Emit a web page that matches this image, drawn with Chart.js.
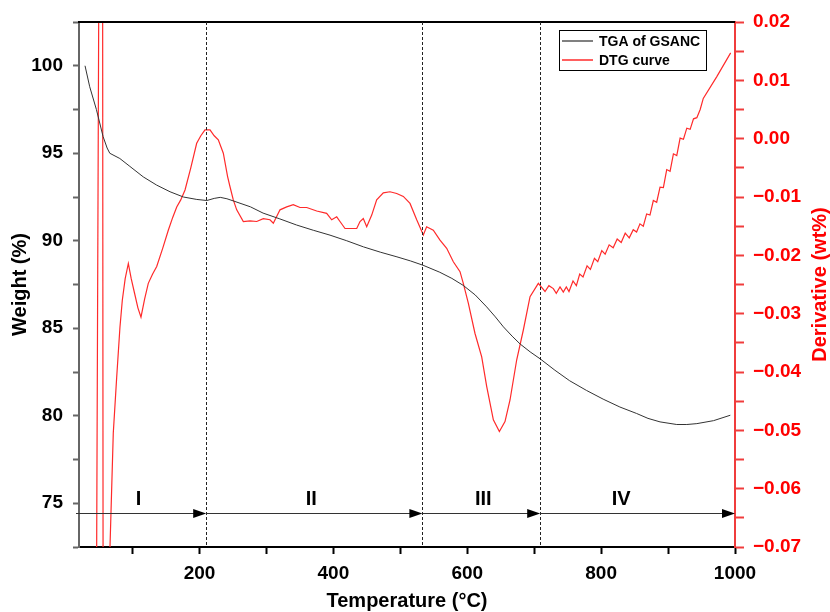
<!DOCTYPE html>
<html lang="en">
<head>
<meta charset="UTF-8">
<title>TGA / DTG - GSANC</title>
<script src="https://cdn.jsdelivr.net/npm/chart.js"></script>
<style>
  body { margin: 0; background: #fff; }
  #wrap { width: 830px; height: 612px; }
</style>
</head>
<body>
<div id="wrap"><canvas id="tgaChart"></canvas></div>
<script>
  // TGA curve: temperature (C) / weight (%)
  const tgaTemp = [29, 36, 46, 56, 62, 66, 81, 96, 116, 136, 156, 176, 196, 211, 222, 231, 241, 251,
    276, 295, 320, 345, 370, 395, 420, 445, 470, 495, 515, 534, 559, 577, 594, 612, 629, 642, 654,
    667, 679, 694, 709, 731, 753, 778, 803, 828, 853, 870, 888, 913, 928, 943, 968, 993];
  const tgaWeight = [100.0, 98.8, 97.5, 95.95, 95.3, 95.0, 94.7, 94.25, 93.65, 93.18, 92.8, 92.5, 92.36,
    92.3, 92.42, 92.48, 92.4, 92.27, 91.94, 91.58, 91.25, 90.9, 90.6, 90.32, 90.0, 89.65, 89.35, 89.08,
    88.85, 88.6, 88.2, 87.85, 87.45, 86.9, 86.22, 85.65, 85.08, 84.55, 84.1, 83.65, 83.25, 82.6, 82.0,
    81.45, 80.95, 80.5, 80.13, 79.85, 79.65, 79.5, 79.5, 79.55, 79.72, 80.03];

  // DTG curve: temperature (C) / derivative (wt%)
  const dtgTemp = [46.2, 49.6, 55.3, 56.0, 64.8, 66.3, 71.2, 76.3, 81.2, 84.7, 89, 93.7, 98, 103, 108,
    112.6, 118, 123.5, 130, 136.1, 145, 153.4, 160, 166, 172, 178.4, 187, 195.8, 202, 208.2, 215.7, 222,
    228.1, 235.6, 242, 245.5, 250.5, 255.6, 265.5, 275.5, 285.5, 295.3, 305.3, 310.3, 320.3, 330.3,
    340.1, 350.2, 360.2, 375.1, 390, 397.5, 405, 409.9, 417.4, 434.9, 439.8, 444.7, 449.8, 457.3,
    464.7, 474.6, 484.6, 494.6, 504.5, 514.5, 524.5, 534.4, 539.3, 549.3, 559.3, 569.3, 579.2, 589.2,
    594.1, 601.6, 611.6, 621.6, 629.1, 639, 648, 656.4, 663.9, 673.9, 683.8, 693.8, 706.2, 716.2, 722,
    728.6, 733, 738.6, 743.5, 748, 752, 758, 763, 768, 773, 779, 784, 790, 795, 801, 806, 812, 818, 824,
    830, 836, 842, 848, 853, 858, 863, 868, 873, 878, 883, 888, 893, 898, 903, 908, 913, 918, 923, 928,
    933, 938, 943, 948, 952.6, 972.6, 993.5];
  const dtgValue = [-0.076, 0.026, 0.026, -0.076, -0.076, -0.070, -0.0505, -0.0409, -0.0323, -0.0277,
    -0.0240, -0.0214, -0.0240, -0.0265, -0.0290, -0.0306, -0.0275, -0.0248, -0.0232, -0.0219, -0.0188,
    -0.0157, -0.0135, -0.0117, -0.0105, -0.0088, -0.0050, -0.0008, 0.0005, 0.0015, 0.0015, 0.0005,
    -0.0002, -0.0025, -0.0065, -0.0082, -0.0105, -0.0122, -0.0142, -0.0141, -0.0142, -0.0137, -0.0139,
    -0.0145, -0.0122, -0.0117, -0.0113, -0.0118, -0.0118, -0.0124, -0.0128, -0.0139, -0.0134, -0.0142,
    -0.0154, -0.0154, -0.0142, -0.0137, -0.0151, -0.0131, -0.0105, -0.0093, -0.0091, -0.0094, -0.0099,
    -0.0111, -0.0139, -0.0165, -0.0151, -0.0157, -0.0174, -0.0188, -0.0211, -0.0228, -0.0248, -0.0282,
    -0.0334, -0.0374, -0.0425, -0.0482, -0.0502, -0.0485, -0.0448, -0.0379, -0.0328, -0.0271, -0.0248,
    -0.0262, -0.0252, -0.0257, -0.0265, -0.0254, -0.0263, -0.0254, -0.0262, -0.0244, -0.0252, -0.0232,
    -0.0237, -0.0218, -0.0224, -0.0205, -0.0211, -0.0192, -0.0198, -0.0182, -0.0187, -0.0172, -0.0178,
    -0.0162, -0.0170, -0.0156, -0.0160, -0.0146, -0.0150, -0.0129, -0.0131, -0.0106, -0.0109, -0.0083,
    -0.0084, -0.0053, -0.0056, -0.0026, -0.0029, 0.0001, -0.0001, 0.0018, 0.0016, 0.0034, 0.0036,
    0.0050, 0.0069, 0.0106, 0.0147];

  // decomposition stages
  const stageBounds = [210, 533, 709, 1000];
  const stageNames = ['I', 'II', 'III', 'IV'];
  const stageLabelTemp = [109, 367, 624, 830];
  const stageLevel = 74.45;

  // axis ticks
  const xTicks = [100, 200, 300, 400, 500, 600, 700, 800, 900, 1000];
  const weightTicks = [72.5, 75, 77.5, 80, 82.5, 85, 87.5, 90, 92.5, 95, 97.5, 100, 102.5];
  const derivTicks = [-0.07, -0.065, -0.06, -0.055, -0.05, -0.045, -0.04, -0.035, -0.03, -0.025,
    -0.02, -0.015, -0.01, -0.005, 0, 0.005, 0.01, 0.015, 0.02];

  const FONT = 'Arial, "Liberation Sans", sans-serif';
  const RED = '#ff0000';
  Chart.defaults.font.family = FONT;

  const toPts = (xs, ys) => xs.map((t, i) => ({ x: t, y: ys[i] }));
  const fixTicks = list => scale => { scale.ticks = list.map(v => ({ value: v })); };

  const overlay = {
    id: 'overlay',
    afterDatasetsDraw(chart) {
      const { ctx, chartArea: a, scales: { x, y } } = chart;
      ctx.save();
      // top frame line
      ctx.strokeStyle = '#000';
      ctx.lineWidth = 2;
      ctx.beginPath(); ctx.moveTo(a.left - 1, a.top); ctx.lineTo(a.right, a.top); ctx.stroke();

      // dashed stage dividers
      ctx.setLineDash([3, 2]);
      ctx.lineWidth = 1;
      ctx.strokeStyle = '#222';
      stageBounds.slice(0, -1).forEach(t => {
        const px = Math.round(x.getPixelForValue(t)) + 0.5;
        ctx.beginPath(); ctx.moveTo(px, a.top); ctx.lineTo(px, a.bottom); ctx.stroke();
      });
      ctx.setLineDash([]);

      // stage arrows
      const ay = Math.round(y.getPixelForValue(stageLevel)) + 0.5;
      let start = a.left - 3;
      ctx.font = 'bold 20px ' + FONT;
      ctx.textAlign = 'center';
      ctx.textBaseline = 'middle';
      stageBounds.forEach((t, i) => {
        const tip = x.getPixelForValue(t);
        ctx.strokeStyle = '#333';
        ctx.lineWidth = 1.2;
        ctx.beginPath(); ctx.moveTo(start, ay); ctx.lineTo(tip - 8, ay); ctx.stroke();
        ctx.fillStyle = '#000';
        ctx.beginPath();
        ctx.moveTo(tip, ay); ctx.lineTo(tip - 13, ay - 4.5); ctx.lineTo(tip - 13, ay + 4.5);
        ctx.closePath(); ctx.fill();
        ctx.fillText(stageNames[i], x.getPixelForValue(stageLabelTemp[i]), ay - 14);
        start = tip;
      });

      // legend box
      const lx = a.right - 176, ly = a.top + 8;
      ctx.fillStyle = '#fff';
      ctx.fillRect(lx, ly, 147, 40);
      ctx.strokeStyle = '#000';
      ctx.lineWidth = 1;
      ctx.strokeRect(lx + 0.5, ly + 0.5, 147, 40);
      const rows = [['TGA of GSANC', '#808080', 11], ['DTG curve', '#ff6060', 30]];
      ctx.font = 'bold 14px ' + FONT;
      ctx.textAlign = 'left';
      rows.forEach(([label, col, dy]) => {
        ctx.strokeStyle = col;
        ctx.lineWidth = 2;
        ctx.beginPath(); ctx.moveTo(lx + 3, ly + dy); ctx.lineTo(lx + 34, ly + dy); ctx.stroke();
        ctx.fillStyle = '#000';
        ctx.fillText(label, lx + 40, ly + dy + 1);
      });

      // right axis title, read bottom to top
      ctx.translate(820, (a.top + a.bottom) / 2);
      ctx.rotate(-Math.PI / 2);
      ctx.font = 'bold 20px ' + FONT;
      ctx.fillStyle = RED;
      ctx.textAlign = 'center';
      ctx.textBaseline = 'middle';
      ctx.fillText('Derivative (wt%)', 0, 0);
      ctx.restore();
    }
  };

  new Chart(document.getElementById('tgaChart'), {
    type: 'line',
    data: {
      datasets: [
        {
          label: 'TGA of GSANC',
          data: toPts(tgaTemp, tgaWeight),
          yAxisID: 'y',
          borderColor: '#333',
          borderWidth: 1,
          pointRadius: 0,
          tension: 0
        },
        {
          label: 'DTG curve',
          data: toPts(dtgTemp, dtgValue),
          yAxisID: 'y1',
          borderColor: '#ff2a2a',
          borderWidth: 1.2,
          pointRadius: 0,
          tension: 0
        }
      ]
    },
    options: {
      responsive: true,
      maintainAspectRatio: false,
      animation: false,
      layout: { padding: { top: 22, left: 0, right: 0, bottom: 0 } },
      plugins: { legend: { display: false }, tooltip: { enabled: false } },
      scales: {
        x: {
          type: 'linear',
          min: 20,
          max: 1000,
          afterBuildTicks: fixTicks(xTicks),
          afterFit: s => { s.height = 65; },
          border: { display: true, color: '#000', width: 2 },
          grid: { drawOnChartArea: false, drawTicks: true, tickLength: 7, tickColor: '#000', tickWidth: 2 },
          ticks: {
            color: '#000', padding: 8,
            font: { size: 19, weight: 'bold' },
            maxRotation: 0,
            callback: v => (v % 200 === 0 ? String(v) : '')
          },
          title: {
            display: true, text: 'Temperature (°C)', color: '#000',
            font: { size: 20, weight: 'bold', lineHeight: 1 },
            padding: { top: 0, bottom: 1 }
          }
        },
        y: {
          position: 'left',
          min: 72.5,
          max: 102.5,
          afterBuildTicks: fixTicks(weightTicks),
          afterFit: s => { s.width = 79; },
          border: { display: true, color: '#666', width: 2 },
          grid: { drawOnChartArea: false, drawTicks: true, tickLength: 6, tickColor: '#666', tickWidth: 2 },
          ticks: {
            color: '#000', padding: 10,
            font: { size: 19, weight: 'bold' },
            callback: v => (v % 5 === 0 ? String(v) : '')
          },
          title: {
            display: true, text: 'Weight (%)', color: '#000',
            font: { size: 20, weight: 'bold', lineHeight: 1 },
            padding: { top: 10, bottom: 0 }
          }
        },
        y1: {
          position: 'right',
          min: -0.07,
          max: 0.02,
          afterBuildTicks: fixTicks(derivTicks),
          afterFit: s => { s.width = 95; },
          border: { display: true, color: '#f03c3c', width: 2 },
          grid: { drawOnChartArea: false, drawTicks: true, tickLength: 9, tickColor: '#f03c3c', tickWidth: 2 },
          ticks: {
            color: RED, padding: 9,
            font: { size: 19, weight: 'bold' },
            callback: v => {
              const m = Math.round(v * 1000);
              if (m % 10 !== 0) return '';
              return (m / 1000).toFixed(2).replace('-', '\u2212');
            }
          },
          title: { display: false }
        }
      }
    },
    plugins: [overlay]
  });
</script>
</body>
</html>
